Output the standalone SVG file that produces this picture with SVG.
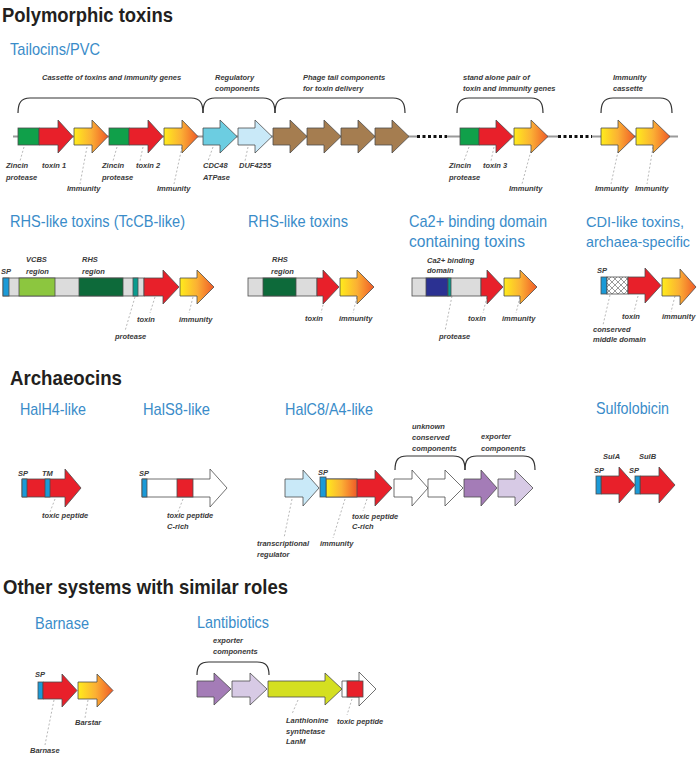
<svg xmlns="http://www.w3.org/2000/svg" width="697" height="758" viewBox="0 0 697 758">
<style>
.hdr{font-family:"Liberation Sans",Arial,sans-serif;font-size:21px;font-weight:bold;fill:#231f20}
.ttl{font-family:"Liberation Sans",Arial,sans-serif;font-size:17px;fill:#3a8cc9}
.lbl{font-family:"Liberation Sans",Arial,sans-serif;font-size:7.5px;font-style:italic;font-weight:bold;fill:#3a3a3a}
.ol{stroke:#4d4d4d;stroke-width:0.8}
.red{fill:#e8202a}.imm{fill:url(#gImm)}.grn{fill:#10a04a}.cyan{fill:#6ccde1}.lblue{fill:#c9e9f8}
.brown{fill:#a57d50}.gry{fill:#dcdcdc}.sp{fill:#1b9ad7}.dg{fill:#0d6a3a}.vc{fill:#8cc63f}.teal{fill:#0a9b8e}
.navy{fill:#2b3192}.pur{fill:#a47cb7}.lpur{fill:#d7cae5}.lan{fill:#d4df21}.wht{fill:#fff}.hat{fill:url(#hatch)}
.brace{fill:none;stroke:#333;stroke-width:1.2}
.lead{stroke:#9a9a9a;stroke-width:0.7;stroke-dasharray:2 2;fill:none}
.bb{stroke:#9a9a9a;stroke-width:2}
.dots{stroke:#111;stroke-width:3;stroke-dasharray:3 2.5}
</style>
<defs>
<linearGradient id="gImm" x1="0" y1="0" x2="1" y2="0">
<stop offset="0" stop-color="#ffec1c"/><stop offset="0.5" stop-color="#fbb034"/><stop offset="1" stop-color="#f05a28"/>
</linearGradient>
<pattern id="hatch" patternUnits="userSpaceOnUse" width="6" height="6">
<rect width="6" height="6" fill="#fff"/><path d="M0,0 L6,6 M6,0 L0,6" stroke="#555" stroke-width="0.6"/>
</pattern>
</defs>
<rect width="697" height="758" fill="#fff"/>

<!-- headers -->
<g id="headers">
<text class="hdr" x="2" y="22" textLength="171" lengthAdjust="spacingAndGlyphs">Polymorphic toxins</text>
<text class="hdr" x="10" y="385" textLength="112" lengthAdjust="spacingAndGlyphs">Archaeocins</text>
<text class="hdr" x="3" y="594" textLength="285" lengthAdjust="spacingAndGlyphs">Other systems with similar roles</text>
</g>
<g id="titles">
<text class="ttl" x="10" y="55" textLength="90" lengthAdjust="spacingAndGlyphs">Tailocins/PVC</text>
<text class="ttl" x="10" y="227" textLength="175" lengthAdjust="spacingAndGlyphs">RHS-like toxins (TcCB-like)</text>
<text class="ttl" x="248" y="227" textLength="100" lengthAdjust="spacingAndGlyphs">RHS-like toxins</text>
<text class="ttl" x="409" y="227" textLength="138" lengthAdjust="spacingAndGlyphs">Ca2+ binding domain</text>
<text class="ttl" x="409" y="247" textLength="116" lengthAdjust="spacingAndGlyphs">containing toxins</text>
<text class="ttl" x="586" y="227" style="font-size:15.5px" textLength="98" lengthAdjust="spacingAndGlyphs">CDI-like toxins,</text>
<text class="ttl" x="586" y="247" style="font-size:14.5px" textLength="104" lengthAdjust="spacingAndGlyphs">archaea-specific</text>
<text class="ttl" x="20" y="415" textLength="66" lengthAdjust="spacingAndGlyphs">HalH4-like</text>
<text class="ttl" x="143" y="415" textLength="67" lengthAdjust="spacingAndGlyphs">HalS8-like</text>
<text class="ttl" x="285" y="415" textLength="88" lengthAdjust="spacingAndGlyphs">HalC8/A4-like</text>
<text class="ttl" x="596" y="414" textLength="73" lengthAdjust="spacingAndGlyphs">Sulfolobicin</text>
<text class="ttl" x="35" y="629" textLength="54" lengthAdjust="spacingAndGlyphs">Barnase</text>
<text class="ttl" x="197" y="628" textLength="72" lengthAdjust="spacingAndGlyphs">Lantibiotics</text>
</g>

<!-- connectors: backbone, braces, leaders -->
<g id="connectors">
<line class="bb" x1="13" y1="136.5" x2="417" y2="136.5"/>
<line class="dots" x1="417" y1="136.5" x2="447" y2="136.5"/>
<line class="bb" x1="447" y1="136.5" x2="558" y2="136.5"/>
<line class="dots" x1="558" y1="136.5" x2="592" y2="136.5"/>
<line class="bb" x1="592" y1="136.5" x2="678" y2="136.5"/>
<path class="brace" d="M18,113 C18,103 21,98 30,98 H191 C200,98 203,103 203,113"/>
<path class="brace" d="M203,113 C203,103 206,98 215,98 H263 C272,98 275,103 275,113"/>
<path class="brace" d="M275,113 C275,103 278,98 287,98 H393 C402,98 405,103 405,113"/>
<path class="brace" d="M457,113 C457,103 460,98 469,98 H531 C540,98 543,103 543,113"/>
<path class="brace" d="M601,113 C601,103 604,98 613,98 H660 C669,98 672,103 672,113"/>
<path class="brace" d="M395,470 C395,460 398,456 407,456 H453 C462,456 465,460 465,470"/>
<path class="brace" d="M465,470 C465,460 468,456 477,456 H523 C532,456 535,460 535,470"/>
<path class="brace" d="M197,675 C197,666 200,662 209,662 H257 C266,662 269,666 269,675"/>
<path class="lead" d="M24,147 L20,161 M87,147 L80,184 M117,147 L113,161 M143,147 L140,161 M182,147 L174,184 M213,147 L208,161 M248,147 L245,161 M469,147 L464,161 M494,147 L491,161 M532,147 L522,184 M619,147 L611,184 M653,147 L647,184"/>
<path class="lead" d="M135,297 L125,331 M155,297 L150,313 M193,297 L189,313 M325,297 L321,313 M357,297 L353,313 M452,296 L445,331 M487,297 L483,313 M520,297 L516,313 M610,295 L603,325 M638,296 L634,312 M675,296 L671,312"/>
<path class="lead" d="M55,499 L50,512 M183,499 L178,512 M292,499 L284,538 M345,499 L333,538 M367,499 L363,511"/>
<path class="lead" d="M54,700 L45,745 M88,700 L85,718 M298,700 L292,714 M352,699 L347,715"/>
</g>

<!-- Tailocins/PVC -->
<g id="tailocin-genes">
<rect class="grn ol" x="18" y="128" width="21" height="17"/>
<path class="red ol" d="M39,128 H58 V120 L73,136.5 L58,153 V145 H39 Z"/>
<path class="imm ol" d="M74,128 H92 V120 L108,136.5 L92,153 V145 H74 Z"/>
<rect class="grn ol" x="109" y="128" width="20" height="17"/>
<path class="red ol" d="M129,128 H148 V120 L163,136.5 L148,153 V145 H129 Z"/>
<path class="imm ol" d="M164,128 H182 V120 L198,136.5 L182,153 V145 H164 Z"/>
<path class="cyan ol" d="M203,128 H220 V120 L237,136.5 L220,153 V145 H203 Z"/>
<path class="lblue ol" d="M238,128 H255 V120 L272,136.5 L255,153 V145 H238 Z"/>
<path class="brown ol" d="M273,128 H290 V120 L307,136.5 L290,153 V145 H273 Z"/>
<path class="brown ol" d="M307,128 H324 V120 L341,136.5 L324,153 V145 H307 Z"/>
<path class="brown ol" d="M341,128 H358 V120 L375,136.5 L358,153 V145 H341 Z"/>
<path class="brown ol" d="M375,128 H392 V120 L409,136.5 L392,153 V145 H375 Z"/>
<rect class="grn ol" x="460" y="128" width="19" height="17"/>
<path class="red ol" d="M479,128 H496 V120 L513,136.5 L496,153 V145 H479 Z"/>
<path class="imm ol" d="M514,128 H531 V120 L548,136.5 L531,153 V145 H514 Z"/>
<path class="imm ol" d="M601,128 H618 V120 L635,136.5 L618,153 V145 H601 Z"/>
<path class="imm ol" d="M636,128 H653 V120 L670,136.5 L653,153 V145 H636 Z"/>
</g>
<g id="tailocin-labels">
<text class="lbl" x="42" y="80">Cassette of toxins and immunity genes</text>
<text class="lbl" x="215" y="80">Regulatory</text>
<text class="lbl" x="215" y="91">components</text>
<text class="lbl" x="303" y="80">Phage tail components</text>
<text class="lbl" x="303" y="91">for toxin delivery</text>
<text class="lbl" x="463" y="80">stand alone pair of</text>
<text class="lbl" x="463" y="91">toxin and immunity genes</text>
<text class="lbl" x="613" y="80">Immunity</text>
<text class="lbl" x="613" y="91">cassette</text>
<text class="lbl" x="6" y="168">Zincin</text>
<text class="lbl" x="6" y="180">protease</text>
<text class="lbl" x="42" y="168">toxin 1</text>
<text class="lbl" x="67" y="191">Immunity</text>
<text class="lbl" x="102" y="168">Zincin</text>
<text class="lbl" x="102" y="180">protease</text>
<text class="lbl" x="136" y="168">toxin 2</text>
<text class="lbl" x="157" y="191">Immunity</text>
<text class="lbl" x="203" y="168">CDC48</text>
<text class="lbl" x="203" y="180">ATPase</text>
<text class="lbl" x="239" y="168">DUF4255</text>
<text class="lbl" x="449" y="168">Zincin</text>
<text class="lbl" x="449" y="180">protease</text>
<text class="lbl" x="483" y="168">toxin 3</text>
<text class="lbl" x="509" y="191">Immunity</text>
<text class="lbl" x="595" y="191">Immunity</text>
<text class="lbl" x="635" y="191">Immunity</text>
</g>

<!-- RHS-like TcCB -->
<g id="rhs-tccb">
<rect class="gry ol" x="3" y="278" width="141" height="18"/>
<rect class="sp ol" x="3" y="278" width="6" height="18"/>
<rect class="vc ol" x="19" y="278" width="36" height="18"/>
<rect class="dg ol" x="79" y="278" width="44" height="18"/>
<rect class="teal ol" x="133" y="278" width="5" height="18"/>
<path class="red ol" d="M144,278 H163 V270 L179,287 L163,304 V296 H144 Z"/>
<path class="imm ol" d="M180,278 H197 V270 L214,287 L197,304 V296 H180 Z"/>
<text class="lbl" x="1" y="274">SP</text>
<text class="lbl" x="26" y="262">VCBS</text>
<text class="lbl" x="26" y="274">region</text>
<text class="lbl" x="82" y="262">RHS</text>
<text class="lbl" x="82" y="274">region</text>
<text class="lbl" x="137" y="322">toxin</text>
<text class="lbl" x="179" y="322">immunity</text>
<text class="lbl" x="115" y="339">protease</text>
</g>
<g id="rhs-like">
<rect class="gry ol" x="248" y="278" width="69" height="18"/>
<rect class="dg ol" x="263" y="278" width="33" height="18"/>
<path class="red ol" d="M317,278 H323 V270 L339,287 L323,304 V296 H317 Z"/>
<path class="imm ol" d="M340,278 H357 V270 L374,287 L357,304 V296 H340 Z"/>
<text class="lbl" x="272" y="262">RHS</text>
<text class="lbl" x="271" y="274">region</text>
<text class="lbl" x="305" y="321">toxin</text>
<text class="lbl" x="339" y="321">immunity</text>
</g>
<g id="ca-binding">
<rect class="gry ol" x="412" y="278" width="69" height="18"/>
<rect class="navy ol" x="426" y="278" width="22" height="18"/>
<rect class="teal ol" x="448" y="278" width="3" height="18"/>
<path class="red ol" d="M481,278 H487 V270 L503,287 L487,304 V296 H481 Z"/>
<path class="imm ol" d="M504,278 H520 V270 L537,287 L520,304 V296 H504 Z"/>
<text class="lbl" x="427" y="263">Ca2+ binding</text>
<text class="lbl" x="427" y="273">domain</text>
<text class="lbl" x="468" y="321">toxin</text>
<text class="lbl" x="502" y="321">immunity</text>
<text class="lbl" x="439" y="339">protease</text>
</g>
<g id="cdi-like">
<rect class="sp ol" x="601" y="277" width="6" height="17"/>
<rect class="hat ol" x="607" y="277" width="21" height="17"/>
<path class="red ol" d="M628,277 H645 V268 L661,285.5 L645,303 V294 H628 Z"/>
<path class="imm ol" d="M662,278 H680 V269 L696,287 L680,305 V296 H662 Z"/>
<text class="lbl" x="597" y="273">SP</text>
<text class="lbl" x="622" y="319">toxin</text>
<text class="lbl" x="662" y="319">immunity</text>
<text class="lbl" x="593" y="332">conserved</text>
<text class="lbl" x="593" y="342">middle domain</text>
</g>

<!-- Archaeocins -->
<g id="halh4">
<path class="red ol" d="M22,479 H65 V469 L81,488 L65,507 V497 H22 Z"/>
<rect class="sp ol" x="22" y="479" width="5" height="18"/>
<rect class="sp ol" x="45" y="479" width="5" height="18"/>
<text class="lbl" x="18" y="476">SP</text>
<text class="lbl" x="42" y="476">TM</text>
<text class="lbl" x="42" y="518">toxic peptide</text>
</g>
<g id="hals8">
<path class="wht ol" d="M142,479 H210 V469 L227,488 L210,507 V497 H142 Z"/>
<rect class="sp ol" x="142" y="479" width="5" height="18"/>
<rect class="red ol" x="177" y="479" width="16" height="18"/>
<text class="lbl" x="139" y="476">SP</text>
<text class="lbl" x="167" y="518">toxic peptide</text>
<text class="lbl" x="167" y="529">C-rich</text>
</g>
<g id="halc8">
<path class="lblue ol" d="M285,479 H303 V470 L319,488 L303,506 V497 H285 Z"/>
<path class="red ol" d="M326,479 H375 V470 L392,488 L375,506 V497 H326 Z"/>
<rect class="imm ol" x="326" y="479" width="31" height="18"/>
<rect class="sp ol" x="320" y="477" width="6" height="20"/>
<path class="wht ol" d="M394,479 H412 V470 L428,488 L412,506 V497 H394 Z"/>
<path class="wht ol" d="M428,479 H445 V470 L463,488 L445,506 V497 H428 Z"/>
<path class="pur ol" d="M464,479 H481 V470 L497,488 L481,506 V497 H464 Z"/>
<path class="lpur ol" d="M498,479 H515 V470 L533,488 L515,506 V497 H498 Z"/>
<text class="lbl" x="318" y="475">SP</text>
<text class="lbl" x="412" y="429">unknown</text>
<text class="lbl" x="412" y="440">conserved</text>
<text class="lbl" x="412" y="451">components</text>
<text class="lbl" x="481" y="439">exporter</text>
<text class="lbl" x="481" y="451">components</text>
<text class="lbl" x="257" y="546">transcriptional</text>
<text class="lbl" x="257" y="557">regulator</text>
<text class="lbl" x="320" y="546">immunity</text>
<text class="lbl" x="352" y="519">toxic peptide</text>
<text class="lbl" x="352" y="529">C-rich</text>
</g>
<g id="sulfolobicin">
<path class="red ol" d="M601,476 H619 V467 L635,485 L619,503 V494 H601 Z"/>
<rect class="sp ol" x="596" y="476" width="5" height="18"/>
<path class="red ol" d="M640,476 H659 V467 L675,485 L659,503 V494 H640 Z"/>
<rect class="sp ol" x="635" y="476" width="5" height="18"/>
<text class="lbl" x="603" y="459">SulA</text>
<text class="lbl" x="639" y="459">SulB</text>
<text class="lbl" x="594" y="473">SP</text>
<text class="lbl" x="629" y="473">SP</text>
</g>

<!-- Other systems -->
<g id="barnase">
<rect class="sp ol" x="38" y="682" width="5" height="17"/>
<path class="red ol" d="M43,682 H62 V674 L77,690.5 L62,707 V699 H43 Z"/>
<path class="imm ol" d="M78,682 H97 V674 L113,690.5 L97,707 V699 H78 Z"/>
<text class="lbl" x="35" y="677">SP</text>
<text class="lbl" x="75" y="725">Barstar</text>
<text class="lbl" x="30" y="753">Barnase</text>
</g>
<g id="lantibiotics">
<path class="pur ol" d="M197,681 H214 V673 L231,689 L214,705 V697 H197 Z"/>
<path class="lpur ol" d="M232,681 H250 V673 L267,689 L250,705 V697 H232 Z"/>
<path class="lan ol" d="M268,681 H325 V673 L342,689 L325,705 V697 H268 Z"/>
<path class="wht ol" d="M342,681 H359 V672 L376,689 L359,706 V697 H342 Z"/>
<rect class="red ol" x="347" y="681" width="16" height="16"/>
<text class="lbl" x="213" y="643">exporter</text>
<text class="lbl" x="213" y="654">components</text>
<text class="lbl" x="286" y="723">Lanthionine</text>
<text class="lbl" x="286" y="734">synthetase</text>
<text class="lbl" x="286" y="744">LanM</text>
<text class="lbl" x="337" y="724">toxic peptide</text>
</g>
</svg>
